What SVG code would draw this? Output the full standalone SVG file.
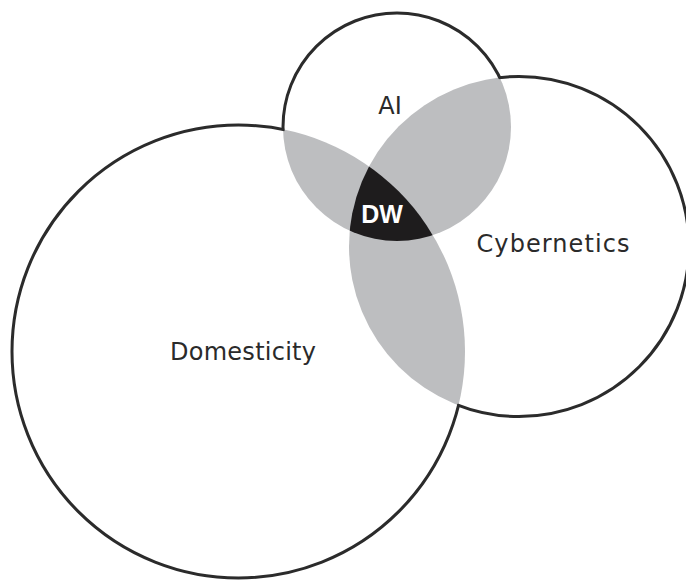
<svg xmlns="http://www.w3.org/2000/svg" width="686" height="581" viewBox="0 0 686 581">
  <style>
    .outline { fill: none; stroke: #2b2b2b; stroke-width: 3; }
    .overlap { fill: #bdbec0; }
    .core { fill: #1e1c1d; }
    .label { font-family: "DejaVu Sans", "Liberation Sans", sans-serif; font-size: 24px; fill: #2a2a2a; text-anchor: middle; }
    .core-label { font-family: "Liberation Sans", Arial, sans-serif; font-weight: bold; font-size: 25px; fill: #ffffff; text-anchor: middle; }
  </style>
  <defs>
    <!-- set geometry -->
    <circle id="shapeD" cx="238.5" cy="351.5" r="226.5"/>
    <circle id="shapeA" cx="397" cy="127" r="114"/>
    <circle id="shapeC" cx="519" cy="246.5" r="170"/>

    <clipPath id="clipD"><use href="#shapeD"/></clipPath>
    <clipPath id="clipA"><use href="#shapeA"/></clipPath>

    <!-- each outline is hidden where it runs inside another set -->
    <mask id="maskD" maskUnits="userSpaceOnUse" x="0" y="0" width="686" height="581">
      <rect width="686" height="581" fill="#fff"/>
      <circle cx="397" cy="127" r="113" fill="#000"/>
      <circle cx="519" cy="246.5" r="169" fill="#000"/>
    </mask>
    <mask id="maskA" maskUnits="userSpaceOnUse" x="0" y="0" width="686" height="581">
      <rect width="686" height="581" fill="#fff"/>
      <circle cx="238.5" cy="351.5" r="225.5" fill="#000"/>
      <circle cx="519" cy="246.5" r="169" fill="#000"/>
    </mask>
    <mask id="maskC" maskUnits="userSpaceOnUse" x="0" y="0" width="686" height="581">
      <rect width="686" height="581" fill="#fff"/>
      <circle cx="238.5" cy="351.5" r="225.5" fill="#000"/>
      <circle cx="397" cy="127" r="113" fill="#000"/>
    </mask>
  </defs>

  <rect width="686" height="581" fill="#ffffff"/>

  <!-- pairwise overlaps and the triple intersection -->
  <g id="overlaps">
    <g clip-path="url(#clipD)">
      <use href="#shapeA" class="overlap"/>
      <use href="#shapeC" class="overlap"/>
    </g>
    <g clip-path="url(#clipA)">
      <use href="#shapeC" class="overlap"/>
    </g>
    <g clip-path="url(#clipD)">
      <g clip-path="url(#clipA)">
        <use href="#shapeC" class="core"/>
      </g>
    </g>
  </g>

  <g id="domesticity">
    <use href="#shapeD" class="outline" mask="url(#maskD)"/>
    <text class="label" x="243" y="360" textLength="146" lengthAdjust="spacing">Domesticity</text>
  </g>

  <g id="ai">
    <use href="#shapeA" class="outline" mask="url(#maskA)"/>
    <text class="label" x="390" y="113.5">AI</text>
  </g>

  <g id="cybernetics">
    <use href="#shapeC" class="outline" mask="url(#maskC)"/>
    <text class="label" x="553" y="252" textLength="153" lengthAdjust="spacing">Cybernetics</text>
  </g>

  <g id="dw">
    <text class="core-label" x="382" y="223">DW</text>
  </g>
</svg>
